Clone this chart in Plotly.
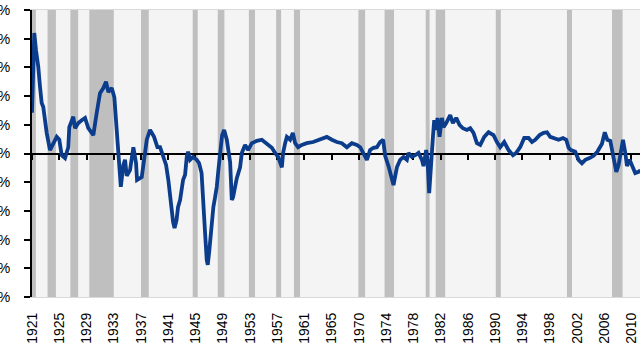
import plotly.graph_objects as go

# ---- data ----
years = [1921.00, 1921.34, 1921.60, 1921.94, 1922.20, 1922.45, 1922.69, 1922.95, 1923.20, 1923.70,
         1924.19, 1924.70, 1925.09, 1925.45, 1925.95, 1926.44, 1926.59, 1927.19, 1927.45, 1927.94,
         1928.45, 1928.95, 1929.44, 1930.19, 1930.70, 1931.19, 1931.69, 1932.09, 1932.44, 1932.95,
         1933.34, 1933.70, 1933.94, 1934.19, 1934.31, 1934.69, 1934.94, 1935.20, 1935.69, 1936.19,
         1936.59, 1936.74, 1937.45, 1938.20, 1938.69, 1939.29, 1939.79, 1940.19, 1940.64, 1941.09,
         1941.43, 1941.84, 1942.14, 1942.36, 1942.66, 1942.89, 1943.19, 1943.64, 1943.94, 1944.19,
         1944.39, 1944.69, 1945.14, 1945.69, 1946.04, 1946.41, 1946.64, 1946.94, 1947.19, 1947.34,
         1947.58, 1947.84, 1948.18, 1948.44, 1948.69, 1948.93, 1949.19, 1949.49, 1949.79, 1950.19,
         1950.69, 1950.94, 1951.13, 1951.69, 1952.18, 1952.44, 1952.93, 1953.38, 1953.94, 1954.69,
         1955.44, 1955.93, 1956.43, 1956.94, 1957.43, 1957.88, 1958.44, 1958.63, 1958.93, 1959.19,
         1959.68, 1960.09, 1960.43, 1960.88, 1961.43, 1962.18, 1963.13, 1964.18, 1965.18, 1965.93,
         1966.68, 1967.43, 1968.18, 1968.93, 1969.68, 1970.18, 1970.67, 1971.18, 1971.67, 1972.17,
         1972.68, 1973.17, 1973.62, 1973.92, 1974.42, 1974.93, 1975.17, 1975.68, 1976.17, 1976.67,
         1977.18, 1977.42, 1977.93, 1978.42, 1978.92, 1979.43, 1979.67, 1980.07, 1980.27, 1980.52,
         1980.78, 1981.08, 1981.27, 1981.57, 1981.77, 1982.07, 1982.42, 1982.67, 1983.07, 1983.67,
         1984.07, 1984.57, 1985.06, 1985.57, 1986.17, 1986.67, 1987.16, 1987.67, 1988.17, 1988.77,
         1989.41, 1990.16, 1990.67, 1991.16, 1991.76, 1992.41, 1993.07, 1993.56, 1994.16, 1994.76,
         1995.41, 1995.92, 1996.41, 1997.06, 1997.66, 1998.17, 1998.66, 1999.16, 1999.91, 2000.57,
         2001.06, 2001.41, 2001.76, 2002.41, 2002.90, 2003.41, 2003.91, 2004.55, 2005.15, 2005.71,
         2006.41, 2006.83, 2007.21, 2007.66, 2008.18, 2008.56, 2008.90, 2009.31, 2009.56, 2009.91,
         2010.16, 2010.55, 2010.91, 2011.40, 2011.90, 2012.16]

rates = [7.1, 21.0, 18.0, 15.1, 11.6, 8.8, 8.1, 5.8, 3.6, 0.6,
         1.8, 2.9, 2.4, -0.3, -0.8, 1.1, 4.6, 6.4, 4.4, 5.3,
         5.8, 6.2, 4.4, 3.2, 7.1, 10.5, 11.4, 12.5, 10.7, 11.4,
         9.8, 4.6, 1.1, -3.7, -5.8, -2.0, -1.1, -3.9, -2.9, 1.1,
         -1.7, -4.6, -4.1, 2.4, 4.1, 2.9, 1.1, 1.1, -0.6, -2.0,
         -4.6, -9.0, -11.9, -13.0, -11.6, -9.3, -8.1, -4.6, -3.7, -0.6,
         0.3, -1.1, -0.6, -1.1, -1.7, -3.4, -9.3, -13.9, -18.6, -19.4,
         -16.8, -12.8, -9.3, -7.6, -5.8, -2.9, 0.1, 3.2, 4.1, 2.4,
         -1.5, -8.1, -7.6, -4.3, -2.4, 0.1, 1.5, 0.6, 1.8, 2.2,
         2.4, 2.0, 1.5, 1.0, 0.1, -0.6, -2.4, 0.1, 1.8, 2.9,
         2.4, 3.6, 1.8, 1.1, 1.5, 1.8, 2.0, 2.4, 2.9, 2.4,
         2.0, 1.8, 1.1, 1.8, 1.5, 1.1, 0.1, -1.1, 0.6, 1.0,
         1.1, 2.0, 2.4, -0.4, -2.2, -4.6, -5.5, -2.4, -1.1, -0.6,
         -1.1, 0.1, -0.6, -0.3, 0.1, -1.1, -2.2, 0.6, -1.1, -6.9,
         -1.1, 2.9, 5.8, 4.1, 6.2, 2.9, 6.2, 4.6, 5.3, 6.7,
         5.3, 6.2, 5.0, 4.4, 4.1, 4.4, 3.6, 1.8, 1.5, 2.9,
         3.7, 3.2, 2.0, 1.1, 2.0, 0.6, -0.3, 0.1, 1.1, 2.7,
         2.7, 2.0, 2.4, 3.2, 3.6, 3.7, 2.9, 2.7, 2.4, 2.7,
         2.4, 1.0, 0.6, 0.3, -1.1, -1.7, -1.1, -0.8, -0.4, 0.3,
         1.7, 3.7, 2.4, 2.2, -0.8, -3.2, -2.0, 1.1, 2.4, 0.1,
         -2.2, -1.1, -2.0, -3.4, -3.2, -2.9]

# NBER recessions (peak month, trough month)
recession_start = ["1920-01", "1923-05", "1926-10", "1929-08", "1937-05", "1945-02", "1948-11",
                   "1953-07", "1957-08", "1960-04", "1969-12", "1973-11", "1980-01", "1981-07",
                   "1990-07", "2001-03", "2007-12"]
recession_end = ["1921-07", "1924-07", "1927-11", "1933-03", "1938-06", "1945-10", "1949-10",
                 "1954-05", "1958-04", "1961-02", "1970-11", "1975-03", "1980-07", "1982-11",
                 "1991-03", "2001-11", "2009-06"]

tick_labels = ["1921", "1925", "1929", "1933", "1937", "1941", "1945", "1949", "1953", "1957",
               "1961", "1965", "1970", "1974", "1978", "1982", "1986", "1990", "1994", "1998",
               "2002", "2006", "2010"]
tick_step_months = 49

y_ticks = [-25, -20, -15, -10, -5, 0, 5, 10, 15, 20, 25]
y_tick_text = [f"{v}%" for v in y_ticks]


def to_year(s, end=False):
    y, m = s.split("-")
    return int(y) + (int(m) - 1) / 12 + (1 / 12 if end else 0)


x_start = 1921.0
x_end = 2012.11
tickvals = [x_start + k * tick_step_months / 12 for k in range(len(tick_labels))]

fig = go.Figure()

fig.add_trace(go.Scatter(
    x=years, y=rates, mode="lines",
    line=dict(color="#0b3d8c", width=3.8),
    hoverinfo="skip", showlegend=False,
))

# dummy trace so the zero-crossing tick axis renders
fig.add_trace(go.Scatter(
    x=[x_start, x_end], y=[None, None], xaxis="x2", mode="lines",
    hoverinfo="skip", showlegend=False,
))

shapes = []
for s, e in zip(recession_start, recession_end):
    shapes.append(dict(
        type="rect", xref="x", yref="paper",
        x0=max(to_year(s), x_start), x1=to_year(e, end=True), y0=0, y1=1,
        fillcolor="#bfbfbf", line=dict(width=0), layer="below",
    ))

fig.update_layout(
    width=640, height=360,
    margin=dict(l=32, r=0, t=10, b=63, autoexpand=False),
    paper_bgcolor="white",
    plot_bgcolor="#f4f4f4",
    font=dict(family="Liberation Sans, Arial, sans-serif", size=14, color="black"),
    shapes=shapes,
    xaxis=dict(
        range=[x_start, x_end],
        tickmode="array", tickvals=tickvals, ticktext=tick_labels,
        tickangle=-90, ticks="", ticklabelstandoff=9,
        showgrid=False, zeroline=False,
        showline=True, linecolor="#d9d9d9", linewidth=1, mirror=True,
        automargin=False,
    ),
    xaxis2=dict(
        overlaying="x", anchor="free", position=0.5, side="bottom",
        range=[x_start, x_end],
        tickmode="array", tickvals=tickvals, showticklabels=False,
        ticks="outside", ticklen=5, tickwidth=1.5, tickcolor="black",
        showgrid=False, zeroline=False, showline=False,
        layer="below traces",
    ),
    yaxis=dict(
        range=[-25, 25],
        tickmode="array", tickvals=y_ticks, ticktext=y_tick_text,
        ticks="outside", ticklen=6, tickwidth=1.5, tickcolor="black",
        ticklabelstandoff=11,
        showgrid=False,
        zeroline=True, zerolinecolor="black", zerolinewidth=2,
        showline=True, linecolor="black", linewidth=2,
        automargin=False,
    ),
)

fig.write_html("out.html", config={"displayModeBar": False},
               post_script="document.body.style.margin='0px';")
